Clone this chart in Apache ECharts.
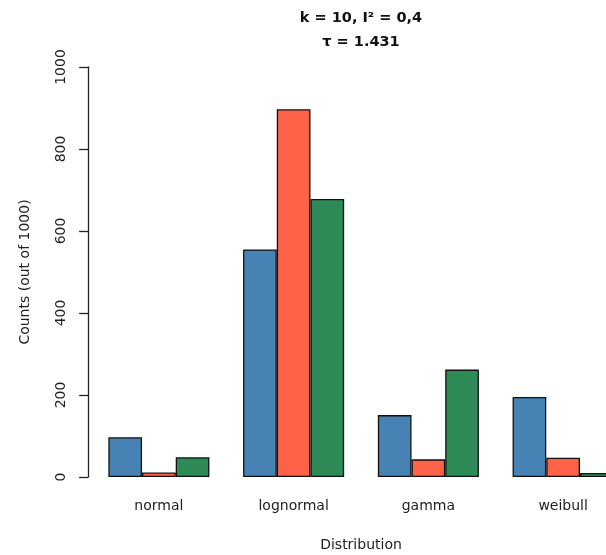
<!DOCTYPE html>
<html lang="en">
<head>
  <meta charset="utf-8">
  <style>
    html, body { margin: 0; padding: 0; background: #fff; }
    #chart { width: 606px; height: 555px; }
  </style>
</head>
<body>
  <div id="chart"></div>
  <script src="https://cdn.jsdelivr.net/npm/echarts@6/dist/echarts.min.js"></script>
  <script>
    // categories and counts (out of 1000)
    const categories = ['normal', 'lognormal', 'gamma', 'weibull'];
    const seriesNames = ['Series 1', 'Series 2', 'Series 3'];
    const blueCounts = [97, 555, 151, 195];
    const redCounts = [11, 897, 43, 47];
    const greenCounts = [48, 678, 262, 10];
    const yTicks = [0, 200, 400, 600, 800, 1000];

    const colors = ['#4682B4', '#FF6347', '#2E8B57'];
    const font = 'DejaVu Sans';

    var chart = echarts.init(document.getElementById('chart'), null, { renderer: 'canvas' });

    function bar(name, data, color) {
      return {
        name: name,
        type: 'bar',
        data: data,
        barGap: '0%',
        barCategoryGap: '25%',
        itemStyle: { color: color, borderColor: '#111', borderWidth: 1.3 },
        emphasis: { disabled: true }
      };
    }

    var option = {
      animation: false,
      backgroundColor: '#fff',
      title: {
        text: 'k = 10, I\u00b2 = 0,4\n\u03c4 = 1.431',
        left: 361,
        top: 6,
        textAlign: 'center',
        padding: 0,
        textStyle: { fontFamily: font, fontWeight: 'bold', fontSize: 14.5, lineHeight: 24, color: '#111' }
      },
      // the plot runs past the right edge of the picture, as in the reference
      grid: { left: 91.5, width: 539, top: 67, bottom: 78, outerBoundsMode: 'none', containLabel: false },
      xAxis: {
        type: 'category',
        data: categories,
        name: 'Distribution',
        nameLocation: 'middle',
        nameGap: 61,
        nameTextStyle: { fontFamily: font, fontSize: 14, color: '#222' },
        axisLine: { show: false },
        axisTick: { show: false },
        axisLabel: { fontFamily: font, fontSize: 14, color: '#222', margin: 22 }
      },
      yAxis: {
        type: 'value',
        min: yTicks[0],
        max: yTicks[yTicks.length - 1],
        interval: yTicks[1] - yTicks[0],
        offset: 3.4,
        name: 'Counts (out of 1000)',
        nameLocation: 'middle',
        nameGap: 56,
        nameTextStyle: { fontFamily: font, fontSize: 14, color: '#222' },
        axisLine: { show: true, lineStyle: { color: '#222', width: 1.3 } },
        axisTick: { show: true, length: 9, lineStyle: { color: '#222', width: 1.3 } },
        axisLabel: {
          fontFamily: font, fontSize: 14, color: '#222', rotate: 90, margin: 20,
          formatter: function (v) { return String(v); }
        },
        splitLine: { show: false }
      },
      series: [
        bar(seriesNames[0], blueCounts, colors[0]),
        bar(seriesNames[1], redCounts, colors[1]),
        bar(seriesNames[2], greenCounts, colors[2])
      ]
    };

    chart.setOption(option);
  </script>
</body>
</html>
